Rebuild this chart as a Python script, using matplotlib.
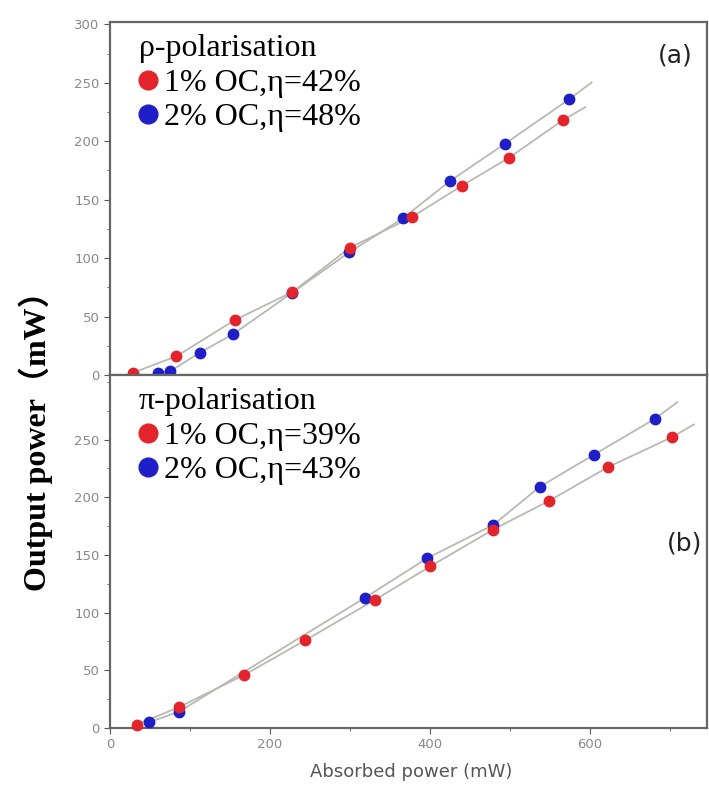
import numpy as np
import matplotlib.pyplot as plt
from matplotlib.ticker import MultipleLocator

# (a) rho-polarisation
a_x_1oc = [29, 83, 156, 228, 300, 377, 440, 499, 566]
a_y_1oc = [2, 16, 47, 71, 109, 135, 162, 186, 218]
a_x_2oc = [60, 75, 112, 154, 227, 299, 366, 425, 494, 574]
a_y_2oc = [2, 3, 19, 35, 70, 105, 134, 166, 198, 236]

# (b) pi-polarisation
b_x_1oc = [34, 86, 168, 244, 331, 400, 479, 549, 622, 702]
b_y_1oc = [3, 18, 46, 76, 111, 140, 172, 197, 226, 252]
b_x_2oc = [49, 86, 319, 396, 479, 537, 605, 681]
b_y_2oc = [5, 14, 113, 147, 176, 209, 237, 268]

labels_a = ['1% OC,η=42%', '2% OC,η=48%']
labels_b = ['1% OC,η=39%', '2% OC,η=43%']

RED = '#e3242b'
BLUE = '#1f1fc8'
LINE = '#b9b9b4'

fig = plt.figure(figsize=(7.09, 7.87), dpi=100)
ax1 = fig.add_axes([0.155, 0.5235, 0.842, 0.4485])
ax2 = fig.add_axes([0.155, 0.075, 0.842, 0.4485], sharex=ax1)


def draw(ax, x1, y1, x2, y2):
    for x, y in [(x2, y2), (x1, y1)]:
        x = np.array(x)
        y = np.array(y)
        # thin line through the points, running a little past the last one
        k, b = np.polyfit(x[-4:], y[-4:], 1)
        xe = x[-1] + 28
        ax.plot(list(x) + [xe], list(y) + [k * xe + b], '-', color=LINE, lw=1.3, zorder=1)
    h2 = ax.plot(x2, y2, 'o', color=BLUE, ms=7.5, zorder=3, clip_on=False)[0]
    h1 = ax.plot(x1, y1, 'o', color=RED, ms=7.5, zorder=4, clip_on=False)[0]
    return [h1, h2]


h_a = draw(ax1, a_x_1oc, a_y_1oc, a_x_2oc, a_y_2oc)
h_b = draw(ax2, b_x_1oc, b_y_1oc, b_x_2oc, b_y_2oc)

serif = ['Liberation Serif', 'DejaVu Serif']
for ax, hs, labs, title in [(ax1, h_a, labels_a, 'ρ-polarisation'),
                            (ax2, h_b, labels_b, 'π-polarisation')]:
    leg = ax.legend(hs, labs, title=title, loc='upper left', frameon=False,
                    prop={'family': serif, 'size': 23}, markerscale=1.8,
                    handlelength=0.6, handletextpad=0.2, labelspacing=0.16,
                    borderaxespad=0.0, borderpad=0.0, alignment='left',
                    bbox_to_anchor=(0.048, 0.965))
    leg.get_title().set_fontfamily(serif)
    leg.get_title().set_fontsize(23)

ax1.set_xlim(0, 746)
ax1.set_ylim(0, 302)
ax2.set_ylim(0, 306)

for ax in (ax1, ax2):
    ax.xaxis.set_major_locator(MultipleLocator(200))
    ax.xaxis.set_minor_locator(MultipleLocator(100))
    ax.set_yticks(np.arange(0, 301 if ax is ax1 else 300, 50))
    ax.yaxis.set_minor_locator(MultipleLocator(25))
    ax.tick_params(which='both', direction='out', colors='#555555', labelsize=9.5,
                   labelcolor='#888888')
    ax.tick_params(which='major', length=4)
    ax.tick_params(which='minor', length=2)
    for s in ax.spines.values():
        s.set_color('#666666')
        s.set_linewidth(1.6)
plt.setp(ax1.get_xticklabels(), visible=False)
ax1.tick_params(axis='x', which='both', length=0)

ax1.text(0.976, 0.905, '(a)', transform=ax1.transAxes, ha='right', va='center',
         fontsize=18, color='#222222', family='DejaVu Sans')
ax2.text(0.992, 0.524, '(b)', transform=ax2.transAxes, ha='right', va='center',
         fontsize=18, color='#222222', family='DejaVu Sans')

ax2.set_xlabel('Absorbed power (mW)', fontsize=13, color='#555555', labelpad=8)
ax2.xaxis.set_label_coords(0.5 + 3 / 597, -0.1)
fig.text(0.05, 0.45, 'Output power（mW）', rotation=90, ha='center', va='center',
         fontsize=23, fontweight='bold',
         family=['Liberation Serif', 'Noto Sans CJK SC', 'DejaVu Sans'])

plt.savefig('out.png', dpi=100)
